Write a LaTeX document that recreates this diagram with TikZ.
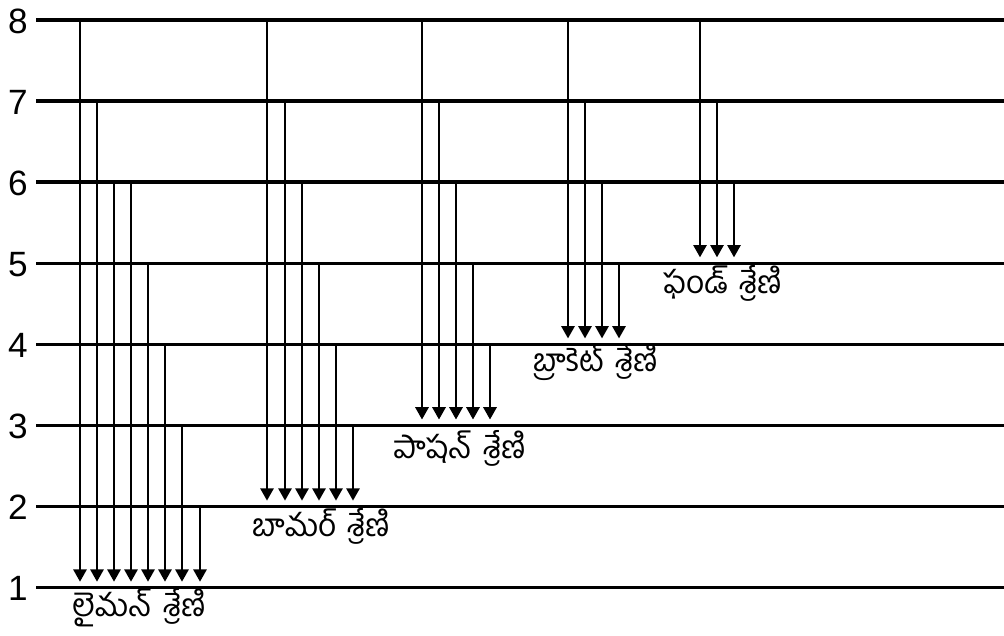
\documentclass[tikz,border=0pt]{standalone}
\usepackage{fontspec}
\setmainfont{Liberation Sans}
\newfontfamily\telugu[Script=Telugu]{Hind Guntur}
\usetikzlibrary{arrows.meta}

\begin{document}
\begin{tikzpicture}[x=0.2mm,y=-0.2mm,
		level/.style={line width=2pt},
		trans/.style={line width=1.3pt,-{Triangle[width=7.5pt,length=7pt]},shorten >=3.4pt},
		num/.style={font=\fontsize{20}{20}\selectfont},
		series/.style={anchor=west,inner sep=0pt,font=\telugu\fontsize{18}{18}\selectfont}]
		\useasboundingbox (0,0) rectangle (1004,636);
		
		% energy levels
		\foreach \n in {1,...,8} {
			\coordinate (lvl\n) at (36,{20+(8-\n)*81.1});
			\coordinate (end\n) at (1004,{20+(8-\n)*81.1});
			\draw[level] (lvl\n) -- (end\n);
			\node[num] (num\n) at (18,{21+(8-\n)*81.1}) {\n};
		}
		
		% lyman
		\foreach \x/\f in {80/8,97/7,114/6,131/6,148/5,165/4,182/3,200/2}
			\draw[trans] (\x,0 |- lvl\f) -- (\x,0 |- lvl1);
		% balmer
		\foreach \x/\f in {267/8,285/7,302/6,319/5,336/4,353/3}
			\draw[trans] (\x,0 |- lvl\f) -- (\x,0 |- lvl2);
		% paschen
		\foreach \x/\f in {422/8,439/7,456/6,473/5,490/4}
			\draw[trans] (\x,0 |- lvl\f) -- (\x,0 |- lvl3);
		% brackett
		\foreach \x/\f in {568/8,585/7,602/6,619/5}
			\draw[trans] (\x,0 |- lvl\f) -- (\x,0 |- lvl4);
		% pfund
		\foreach \x/\f in {700/8,717/7,734/6}
			\draw[trans] (\x,0 |- lvl\f) -- (\x,0 |- lvl5);
		
		\node[series] (lyman) at (72,608) {లైమన్\hspace{0.35em}శ్రేణి};
		\node[series] (balmer) at (252,526) {బామర్\hspace{0.35em}శ్రేణి};
		\node[series] (paschen) at (393,448) {పాషన్\hspace{0.35em}శ్రేణి};
		\node[series] (brackett) at (533,362) {బ్రాకెట్\hspace{0.35em}శ్రేణి};
		\node[series] (pfund) at (663,283) {ఫండ్\hspace{0.35em}శ్రేణి};
\end{tikzpicture}
\end{document}
